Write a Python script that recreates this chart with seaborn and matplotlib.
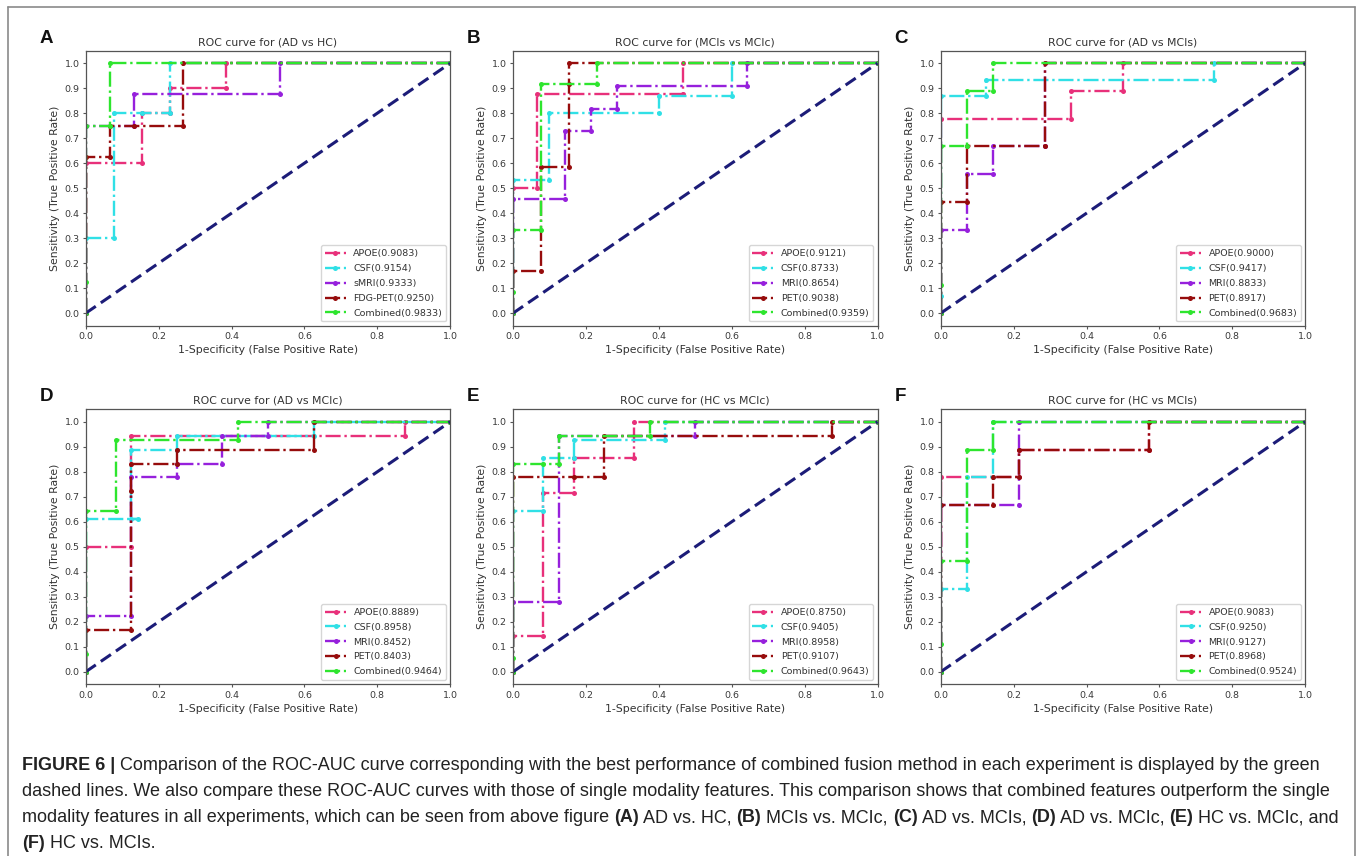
import matplotlib
matplotlib.use("Agg")
import matplotlib.pyplot as plt
from matplotlib.lines import Line2D
import pandas as pd
import seaborn as sns

colors = ["#e8307a", "#30e0e6", "#9620dc", "#960c0c", "#2ee52e"]

### (A) AD vs HC
a_names = ["APOE", "CSF", "sMRI", "FDG-PET", "Combined"]
a_auc = [0.9083, 0.9154, 0.9333, 0.9250, 0.9833]
a_fpr = [[0, 0, 0.154, 0.154, 0.231, 0.231, 0.385, 0.385, 1],
         [0, 0, 0.077, 0.077, 0.154, 0.231, 0.231, 1],
         [0, 0, 0.133, 0.133, 0.533, 0.533, 1],
         [0, 0, 0.067, 0.067, 0.133, 0.267, 0.267, 1],
         [0, 0, 0, 0.067, 0.067, 1]]
a_tpr = [[0, 0.6, 0.6, 0.8, 0.8, 0.9, 0.9, 1, 1],
         [0, 0.3, 0.3, 0.8, 0.8, 0.8, 1, 1],
         [0, 0.75, 0.75, 0.875, 0.875, 1, 1],
         [0, 0.625, 0.625, 0.75, 0.75, 0.75, 1, 1],
         [0, 0.125, 0.75, 0.75, 1, 1]]

### (B) MCIs vs MCIc
b_names = ["APOE", "CSF", "MRI", "PET", "Combined"]
b_auc = [0.9121, 0.8733, 0.8654, 0.9038, 0.9359]
b_fpr = [[0, 0, 0.067, 0.067, 0.467, 0.467, 1],
         [0, 0, 0.1, 0.1, 0.4, 0.4, 0.6, 0.6, 1],
         [0, 0, 0.143, 0.143, 0.214, 0.214, 0.286, 0.286, 0.643, 0.643, 1],
         [0, 0, 0.077, 0.077, 0.154, 0.154, 0.154, 1],
         [0, 0, 0, 0.077, 0.077, 0.231, 0.231, 1]]
b_tpr = [[0, 0.5, 0.5, 0.875, 0.875, 1, 1],
         [0, 0.533, 0.533, 0.8, 0.8, 0.867, 0.867, 1, 1],
         [0, 0.455, 0.455, 0.727, 0.727, 0.818, 0.818, 0.909, 0.909, 1, 1],
         [0, 0.167, 0.167, 0.583, 0.583, 0.917, 1, 1],
         [0, 0.083, 0.333, 0.333, 0.917, 0.917, 1, 1]]

### (C) AD vs MCIs
c_names = ["APOE", "CSF", "MRI", "PET", "Combined"]
c_auc = [0.9000, 0.9417, 0.8833, 0.8917, 0.9683]
c_fpr = [[0, 0, 0.357, 0.357, 0.5, 0.5, 1],
         [0, 0, 0, 0.125, 0.125, 0.75, 0.75, 1],
         [0, 0, 0.071, 0.071, 0.143, 0.143, 0.286, 0.286, 1],
         [0, 0, 0.071, 0.071, 0.286, 0.286, 1],
         [0, 0, 0, 0.071, 0.071, 0.143, 0.143, 1]]
c_tpr = [[0, 0.778, 0.778, 0.889, 0.889, 1, 1],
         [0, 0.067, 0.867, 0.867, 0.933, 0.933, 1, 1],
         [0, 0.333, 0.333, 0.556, 0.556, 0.667, 0.667, 1, 1],
         [0, 0.444, 0.444, 0.667, 0.667, 1, 1],
         [0, 0.111, 0.667, 0.667, 0.889, 0.889, 1, 1]]

### (D) AD vs MCIc
d_names = ["APOE", "CSF", "MRI", "PET", "Combined"]
d_auc = [0.8889, 0.8958, 0.8452, 0.8403, 0.9464]
d_fpr = [[0, 0, 0.125, 0.125, 0.875, 0.875, 1],
         [0, 0, 0.143, 0.125, 0.125, 0.25, 0.25, 0.625, 0.625, 1],
         [0, 0, 0.125, 0.125, 0.25, 0.25, 0.375, 0.375, 0.5, 0.5, 1],
         [0, 0, 0.125, 0.125, 0.125, 0.25, 0.25, 0.625, 0.625, 1],
         [0, 0, 0, 0.083, 0.083, 0.417, 0.417, 1]]
d_tpr = [[0, 0.5, 0.5, 0.944, 0.944, 1, 1],
         [0, 0.611, 0.611, 0.611, 0.889, 0.889, 0.944, 0.944, 1, 1],
         [0, 0.222, 0.222, 0.778, 0.778, 0.833, 0.833, 0.944, 0.944, 1, 1],
         [0, 0.167, 0.167, 0.722, 0.833, 0.833, 0.889, 0.889, 1, 1],
         [0, 0.071, 0.643, 0.643, 0.929, 0.929, 1, 1]]

### (E) HC vs MCIc
e_names = ["APOE", "CSF", "MRI", "PET", "Combined"]
e_auc = [0.8750, 0.9405, 0.8958, 0.9107, 0.9643]
e_fpr = [[0, 0, 0.083, 0.083, 0.167, 0.167, 0.333, 0.333, 1],
         [0, 0, 0.083, 0.083, 0.167, 0.167, 0.417, 0.417, 1],
         [0, 0, 0.125, 0.125, 0.5, 0.5, 1],
         [0, 0, 0.167, 0.25, 0.25, 0.875, 0.875, 1],
         [0, 0, 0, 0.083, 0.125, 0.125, 0.375, 0.375, 1]]
e_tpr = [[0, 0.143, 0.143, 0.714, 0.714, 0.857, 0.857, 1, 1],
         [0, 0.643, 0.643, 0.857, 0.857, 0.929, 0.929, 1, 1],
         [0, 0.278, 0.278, 0.944, 0.944, 1, 1],
         [0, 0.778, 0.778, 0.778, 0.944, 0.944, 1, 1],
         [0, 0.056, 0.833, 0.833, 0.833, 0.944, 0.944, 1, 1]]

### (F) HC vs MCIs
f_names = ["APOE", "CSF", "MRI", "PET", "Combined"]
f_auc = [0.9083, 0.9250, 0.9127, 0.8968, 0.9524]
f_fpr = [[0, 0, 0.214, 0.214, 0.571, 0.571, 1],
         [0, 0, 0.071, 0.071, 0.143, 0.143, 1],
         [0, 0, 0.214, 0.214, 1],
         [0, 0, 0.143, 0.143, 0.214, 0.214, 0.571, 0.571, 1],
         [0, 0, 0, 0.071, 0.071, 0.143, 0.143, 1]]
f_tpr = [[0, 0.778, 0.778, 0.889, 0.889, 1, 1],
         [0, 0.333, 0.333, 0.778, 0.778, 1, 1],
         [0, 0.667, 0.667, 1, 1],
         [0, 0.667, 0.667, 0.778, 0.778, 0.889, 0.889, 1, 1],
         [0, 0.111, 0.444, 0.444, 0.889, 0.889, 1, 1]]

panels = [("A", "ROC curve for (AD vs HC)", a_names, a_auc, a_fpr, a_tpr),
          ("B", "ROC curve for (MCIs vs MCIc)", b_names, b_auc, b_fpr, b_tpr),
          ("C", "ROC curve for (AD vs MCIs)", c_names, c_auc, c_fpr, c_tpr),
          ("D", "ROC curve for (AD vs MCIc)", d_names, d_auc, d_fpr, d_tpr),
          ("E", "ROC curve for (HC vs MCIc)", e_names, e_auc, e_fpr, e_tpr),
          ("F", "ROC curve for (HC vs MCIs)", f_names, f_auc, f_fpr, f_tpr)]

sns.set_style("ticks")
plt.rcParams.update({"font.family": ["DejaVu Sans"], "axes.edgecolor": "#555555",
                     "axes.linewidth": 0.9, "xtick.color": "#555555", "ytick.color": "#555555",
                     "xtick.labelcolor": "#3a3a3a", "ytick.labelcolor": "#3a3a3a",
                     "xtick.major.size": 2.5, "ytick.major.size": 2.5,
                     "xtick.major.pad": 2, "ytick.major.pad": 2,
                     "xtick.labelsize": 6.8, "ytick.labelsize": 6.8})

W, H = 1357, 856
fig = plt.figure(figsize=(W / 100, H / 100), dpi=100)

col_left = [85.7, 513, 940.7]
row_top = [50.7, 409.3]
ax_w, ax_h = 364.5, 275

for i, (letter, title, names, aucs, fprs, tprs) in enumerate(panels):
    left = col_left[i % 3]
    top = row_top[i // 3]
    ax = fig.add_axes([left / W, 1 - (top + ax_h) / H, ax_w / W, ax_h / H])
    for name, auc, fpr, tpr, col in zip(names, aucs, fprs, tprs, colors):
        df = pd.DataFrame({"fpr": fpr, "tpr": tpr})
        sns.lineplot(data=df, x="fpr", y="tpr", sort=False, estimator=None, ax=ax,
                     color=col, linestyle="-.", linewidth=1.7, marker="o", markersize=3.6,
                     markeredgewidth=0, label=f"{name}({auc:.4f})")
    ax.plot([0, 1], [0, 1], color="#1c1c78", linestyle="--", linewidth=2.2, dashes=(4, 2))
    ax.set_xlim(0, 1)
    ax.set_ylim(-0.05, 1.05)
    ax.set_xticks([0, 0.2, 0.4, 0.6, 0.8, 1.0])
    ax.set_yticks([0, 0.1, 0.2, 0.3, 0.4, 0.5, 0.6, 0.7, 0.8, 0.9, 1.0])
    ax.set_xticklabels(["0.0", "0.2", "0.4", "0.6", "0.8", "1.0"])
    ax.set_yticklabels([f"{v / 10:.1f}" for v in range(11)])
    ax.set_xlabel("1-Specificity (False Positive Rate)", fontsize=7.8, color="#333333", labelpad=3)
    ax.set_ylabel("Sensitivity (True Positive Rate)", fontsize=7.8, color="#333333", labelpad=3)
    ax.set_title(title, fontsize=7.8, color="#333333", pad=4)
    ax.legend(loc="lower right", fontsize=6.8, labelspacing=0.62, handlelength=2.2,
              borderaxespad=0.45, labelcolor="#333333")
    fig.text((left - 46) / W, 1 - (top - 8) / H, letter, fontsize=13.5, fontweight="bold",
             family="Liberation Sans", color="#111111", ha="left", va="baseline")

# outer frame of the figure
for xs, ys in [([8, 8], [7, 856]), ([8, 1355], [7, 7]), ([1355, 1355], [7, 856])]:
    fig.add_artist(Line2D([x / W for x in xs], [1 - y / H for y in ys], color="#8a8a8a", lw=1.2))

# caption
cap_lines = [
    [("FIGURE 6 |", True), (" Comparison of the ROC-AUC curve corresponding with the best performance of combined fusion method in each experiment is displayed by the green", False)],
    [("dashed lines. We also compare these ROC-AUC curves with those of single modality features. This comparison shows that combined features outperform the single", False)],
    [("modality features in all experiments, which can be seen from above figure ", False), ("(A)", True), (" AD vs. HC, ", False),
     ("(B)", True), (" MCIs vs. MCIc, ", False), ("(C)", True), (" AD vs. MCIs, ", False), ("(D)", True), (" AD vs. MCIc, ", False),
     ("(E)", True), (" HC vs. MCIc, and", False)],
    [("(F)", True), (" HC vs. MCIs.", False)],
]
cap_y = [765, 792, 818, 843]
renderer = fig.canvas.get_renderer()
for parts, y in zip(cap_lines, cap_y):
    x = 22
    for txt, bold in parts:
        t = fig.text(x / W, 1 - y / H, txt, fontsize=13.0, family="Liberation Sans",
                     fontweight="bold" if bold else "normal", color="#222222", va="center", ha="left")
        x += t.get_window_extent(renderer=renderer).width

plt.savefig("out.png", dpi=100)
